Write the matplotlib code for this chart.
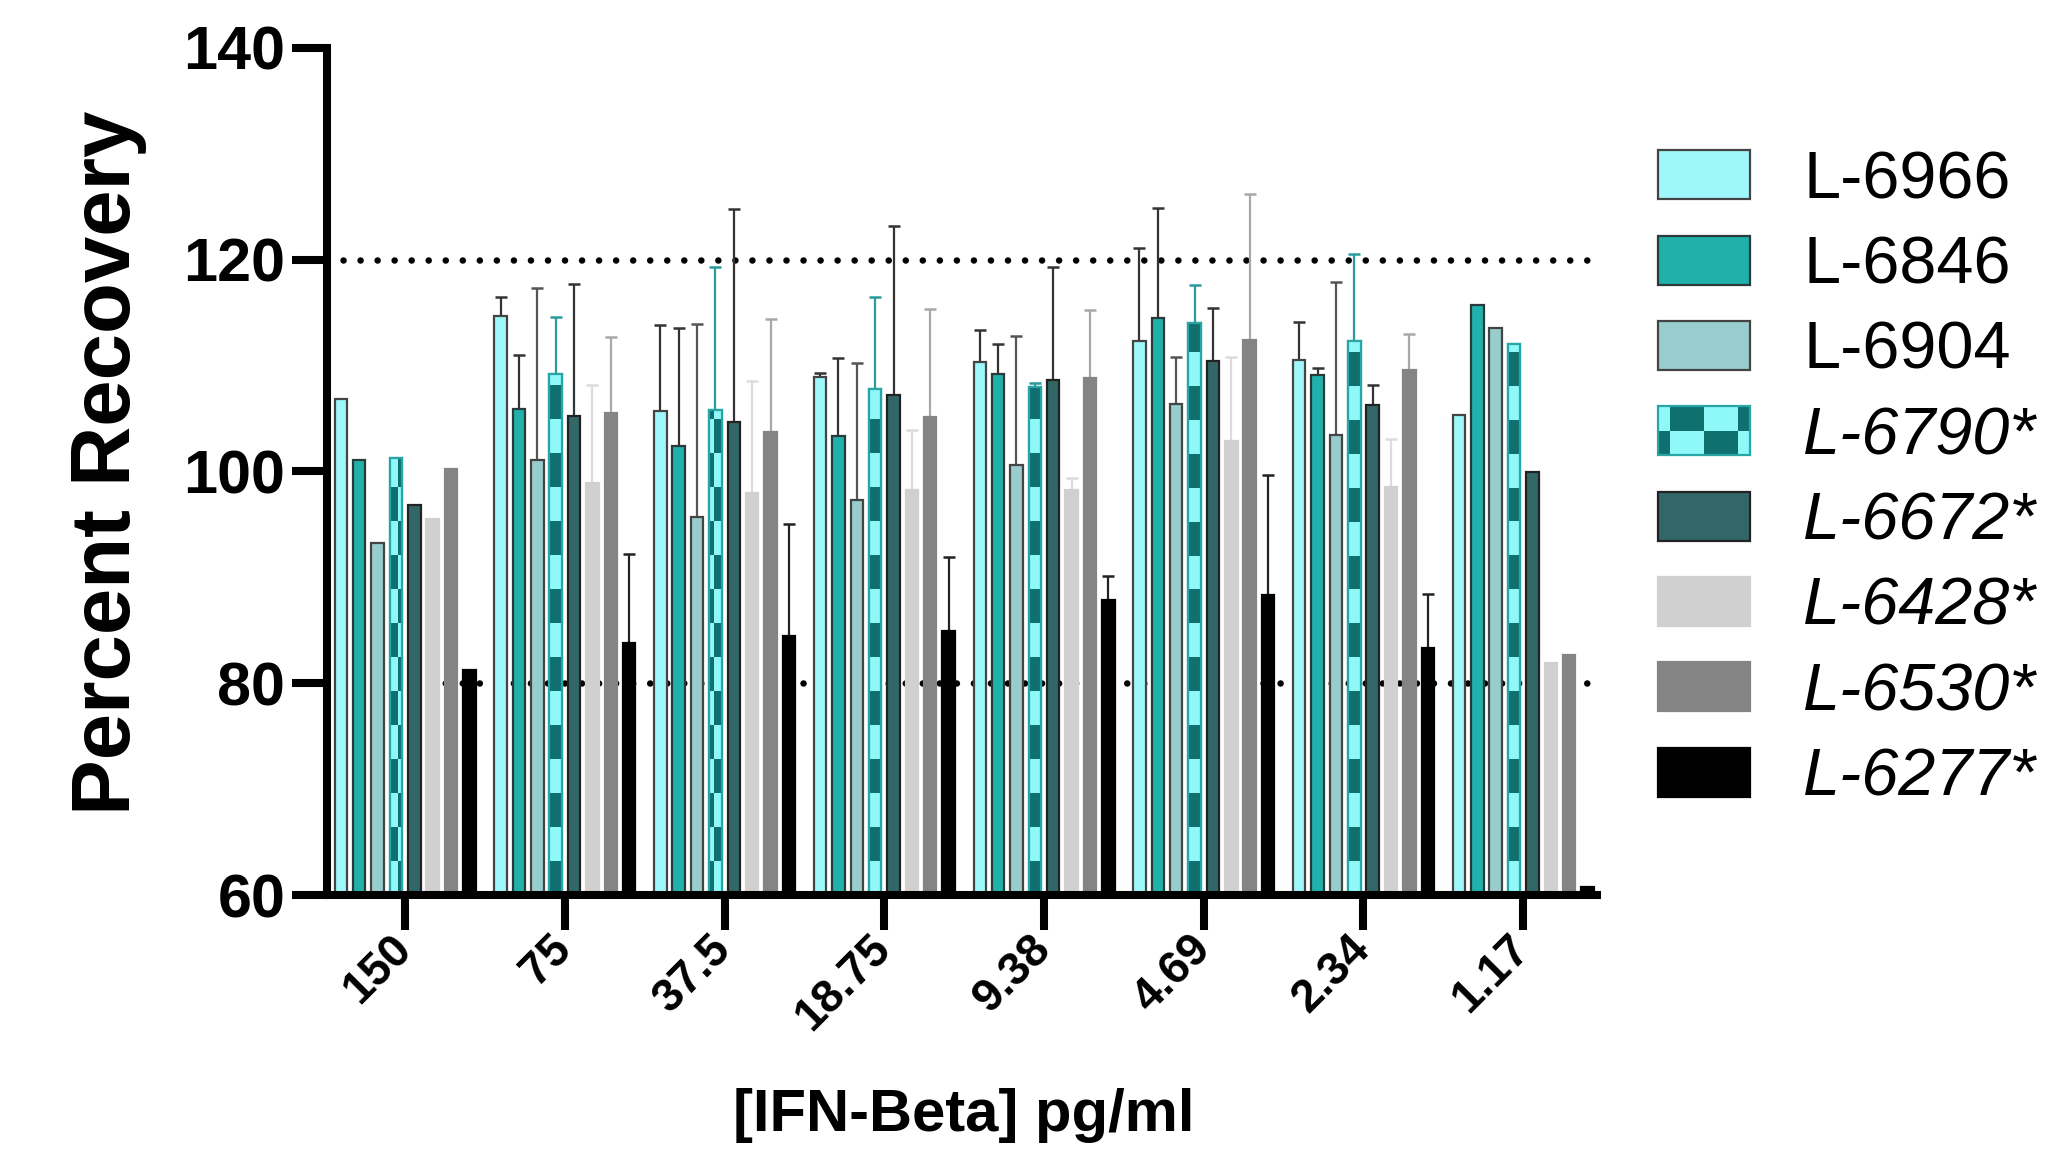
import matplotlib
matplotlib.use("Agg")
import matplotlib.pyplot as plt
import numpy as np
from matplotlib.patches import Patch, Rectangle
from matplotlib.colors import ListedColormap
from matplotlib.legend_handler import HandlerBase

plt.rcParams['font.family'] = ['Liberation Sans', 'DejaVu Sans']

# concentrations on the x axis
conc = ['150', '75', '37.5', '18.75', '9.38', '4.69', '2.34', '1.17']

# lots and their percent recovery (mean) per concentration
lots = ['L-6966', 'L-6846', 'L-6904', 'L-6790*', 'L-6672*', 'L-6428*', 'L-6530*', 'L-6277*']
l6966 = [106.8, 114.7, 105.7, 108.9, 110.3, 112.3, 110.5, 105.3]
l6846 = [101.1, 105.9, 102.4, 103.3, 109.2, 114.5, 109.1, 115.7]
l6904 = [93.2, 101.1, 95.7, 97.3, 100.6, 106.4, 103.4, 113.5]
l6790 = [101.3, 109.2, 105.8, 107.8, 108.0, 114.0, 112.3, 112.0]
l6672 = [96.8, 105.2, 104.7, 107.2, 108.6, 110.4, 106.3, 99.9]
l6428 = [95.5, 98.9, 98.0, 98.2, 98.2, 102.9, 98.5, 81.9]
l6530 = [100.2, 105.5, 103.7, 105.1, 108.8, 112.4, 109.6, 82.7]
l6277 = [81.2, 83.8, 84.5, 84.9, 87.9, 88.3, 83.3, 60.8]

# upper error bars (SD), 0 = none shown
e6966 = [0, 1.8, 8.1, 0.4, 3.0, 8.8, 3.6, 0]
e6846 = [0, 5.1, 11.1, 7.4, 2.8, 10.4, 0.7, 0]
e6904 = [0, 16.2, 18.2, 12.9, 12.2, 4.4, 14.5, 0]
e6790 = [0, 5.4, 13.5, 8.7, 0.3, 3.6, 8.2, 0]
e6672 = [0, 12.5, 20.1, 16.0, 10.7, 5.0, 1.9, 0]
e6428 = [0, 9.3, 10.5, 5.7, 1.2, 7.9, 4.6, 0]
e6530 = [0, 7.2, 10.7, 10.2, 6.4, 13.8, 3.4, 0]
e6277 = [0, 8.4, 10.5, 7.0, 2.2, 11.4, 5.1, 0]

values = [l6966, l6846, l6904, l6790, l6672, l6428, l6530, l6277]
errors = [e6966, e6846, e6904, e6790, e6672, e6428, e6530, e6277]

faces = ['#9ef7fb', '#20b2aa', '#99cccc', '#107070', '#336666', '#d0d0d0', '#848484', '#000000']
edges = ['#444444', '#2a3a3a', '#444444', '#2aa5a5', '#222222', '#d0d0d0', '#848484', '#000000']
ecols = ['#333333', '#333333', '#555555', '#2a9a9a', '#333333', '#dcdcdc', '#a8a8a8', '#222222']
check_dark, check_light = '#107070', '#8ff8f8'

fig = plt.figure(figsize=(20.47, 11.55), dpi=100)
ax = fig.add_axes([0.1597, 0.2251, 0.6203, 0.7336])

x = np.arange(len(conc))
step, w = 0.115, 0.078
offs = (np.arange(len(lots)) - 3.5) * step
ymin, ymax = 60, 140
xl = (-0.49, 7.46)

checker = ListedColormap([check_dark, check_light])
for i, lot in enumerate(lots):
    v = np.array(values[i])
    e = np.array(errors[i])
    pos = x + offs[i]
    bars = ax.bar(pos, v, width=w, color=faces[i], edgecolor=edges[i],
                  linewidth=1.6, zorder=2)
    if i == 3:
        # checkerboard fill
        for r in bars:
            x0, x1 = r.get_x(), r.get_x() + r.get_width()
            top = r.get_height()
            ys = np.arange(ymin, top, 0.05)
            xs = np.linspace(x0, x1, 40)
            X, Y = np.meshgrid(xs, ys)
            pat = (np.floor((X + 0.05) / 0.22) + np.floor((Y - ymin) / 3.2)) % 2
            im = ax.imshow(pat, extent=(x0, x1, ymin, top), origin='lower',
                           cmap=checker, aspect='auto', interpolation='nearest',
                           zorder=2.05)
            im.set_clip_path(r)
        ax.bar(pos, v, width=w, facecolor='none', edgecolor=edges[i],
               linewidth=1.6, zorder=2.1)
    m = e > 0
    if m.any():
        ax.errorbar(pos[m], v[m], yerr=[np.zeros(m.sum()), e[m]], fmt='none',
                    ecolor=ecols[i], elinewidth=1.6, capsize=4, capthick=1.8,
                    zorder=1.8)

ax.set_xlim(*xl)
ax.set_ylim(ymin, ymax)

# acceptance limits
for yv in (120, 80):
    ax.axhline(yv, xmin=0.0126, xmax=0.992, color='black', lw=4.7,
               linestyle=(0, (0.01, 2.6)), dash_capstyle='round', zorder=0.5)

for s in ('top', 'right'):
    ax.spines[s].set_visible(False)
for s in ('left', 'bottom'):
    ax.spines[s].set_linewidth(5.8)

ax.set_yticks([60, 80, 100, 120, 140])
ax.tick_params(axis='y', length=25, width=5.8, pad=5, labelsize=44)
ax.tick_params(axis='x', length=25, width=5.8, pad=9)
for t in ax.get_yticklabels():
    t.set_fontweight('bold')
ax.set_xticks(x)
ax.set_xticklabels(conc, rotation=45, rotation_mode='anchor', ha='right',
                   va='center', fontsize=33, fontweight='bold')

fig.text(0.053, 0.599, 'Percent Recovery', rotation=90, ha='center', va='center',
         fontsize=60, fontweight='bold')
fig.text(0.471, 0.034, '[IFN-Beta] pg/ml', ha='center', va='center',
         fontsize=43, fontweight='bold')


class CheckerHandler(HandlerBase):
    def create_artists(self, legend, orig_handle, xdescent, ydescent,
                       width, height, fontsize, trans):
        arts = []
        x0, y0 = -xdescent, -ydescent
        cw = width / 2.7
        h2 = height / 2
        for row in range(2):
            for k in range(-1, 3):
                a = 0 if k < 0 else (k + 0.35) * cw
                b = min((k + 1.35) * cw, width)
                if b <= a:
                    continue
                dark = (k % 2 == 1) if row == 1 else (k % 2 != 1)
                arts.append(Rectangle((x0 + a, y0 + (1 - row) * h2), b - a, h2,
                                      facecolor=check_dark if dark else check_light,
                                      edgecolor='none', transform=trans))
        arts.append(Rectangle((x0, y0), width, height, facecolor='none',
                              edgecolor=edges[3], linewidth=1.6, transform=trans))
        return arts


handles = []
for i, lot in enumerate(lots):
    handles.append(Patch(facecolor=faces[i], edgecolor=edges[i], linewidth=1.6))
leg = ax.legend(handles, lots, loc='upper left', bbox_to_anchor=(0.81, 0.87),
                bbox_transform=fig.transFigure, frameon=False, fontsize=48,
                handlelength=1.38, handleheight=0.75, handletextpad=0.8,
                labelspacing=0.35, borderpad=0, borderaxespad=0,
                handler_map={handles[3]: CheckerHandler()})
for t in leg.get_texts()[3:]:
    t.set_style('italic')

fig.savefig('out.png', dpi=100)
